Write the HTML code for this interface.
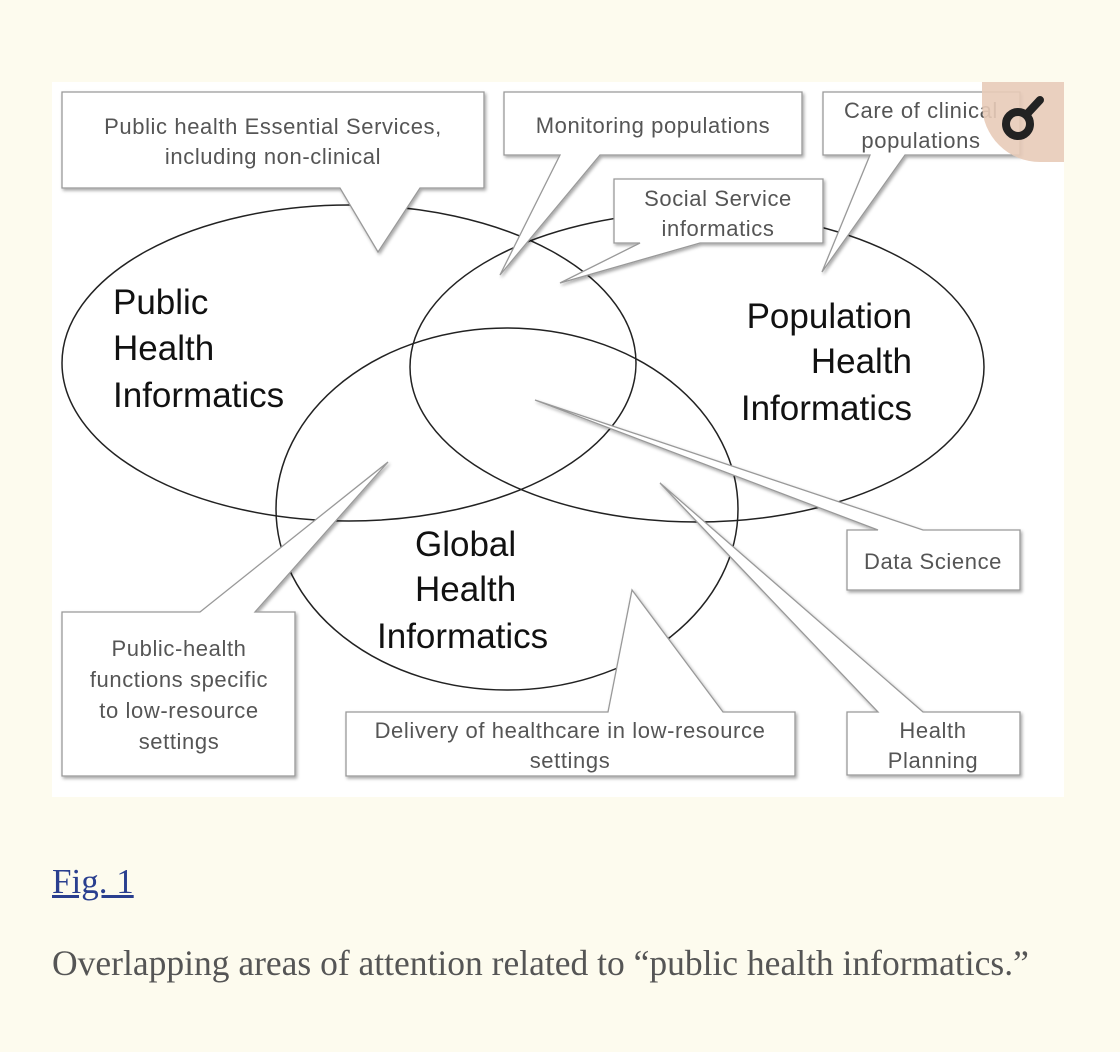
<!DOCTYPE html>
<html><head><meta charset="utf-8"><style>
html,body{margin:0;padding:0;background:#fdfbee;width:1120px;height:1052px;overflow:hidden}
svg{position:absolute;left:0;top:0}
.fig{position:absolute;left:52px;top:862px;font:35px "Liberation Serif",serif;color:#2a3f8f;text-decoration:underline}
.cap{position:absolute;left:52px;top:942px;font:35.5px "Liberation Serif",serif;color:#555}
</style></head><body>
<svg width="1120" height="1052" viewBox="0 0 1120 1052">
<defs><filter id="sh" x="-10%" y="-10%" width="130%" height="130%"><feDropShadow dx="1.5" dy="2" stdDeviation="1.5" flood-color="#000" flood-opacity="0.35"/></filter></defs>
<rect x="52" y="82" width="1012" height="715" fill="#fff"/>
<g fill="none" stroke="#222" stroke-width="1.5">
<ellipse cx="349" cy="363" rx="287" ry="158"/>
<ellipse cx="697" cy="367" rx="287" ry="155"/>
<ellipse cx="507" cy="509" rx="231" ry="181"/>
</g>
<g font-family="Liberation Sans, sans-serif" font-size="35" fill="#111">
<text x="113" y="314">Public</text><text x="113" y="360">Health</text><text x="113" y="407">Informatics</text>
<text x="912" y="328" text-anchor="end">Population</text><text x="912" y="373" text-anchor="end">Health</text><text x="912" y="420" text-anchor="end">Informatics</text>
<text x="415" y="556">Global</text><text x="415" y="601">Health</text><text x="377" y="648">Informatics</text>
</g>
<g fill="#fff" stroke="#999" stroke-width="1.3" filter="url(#sh)">
<polygon points="62,92 484,92 484,188 420,188 378,252 340,188 62,188"/>
<polygon points="504,92 802,92 802,155 600,155 500,275 560,155 504,155"/>
<polygon points="823,92 1020,92 1020,155 905,155 822,272 870,155 823,155"/>
<polygon points="614,179 823,179 823,243 700,243 560,283 640,243 614,243"/>
<polygon points="847,530 878,530 535,400 923,530 1020,530 1020,590 847,590"/>
<polygon points="847,712 878,712 660,483 923,712 1020,712 1020,775 847,775"/>
<polygon points="346,712 608,712 632,590 723,712 795,712 795,776 346,776"/>
<polygon points="62,612 200,612 388,462 255,612 295,612 295,776 62,776"/>
</g>
<g font-family="Liberation Sans, sans-serif" font-size="22" letter-spacing="0.6" fill="#555" text-anchor="middle">
<text x="273" y="134">Public health Essential Services,</text><text x="273" y="164">including non-clinical</text>
<text x="653" y="133">Monitoring populations</text>
<text x="921" y="118">Care of clinical</text><text x="921" y="148">populations</text>
<text x="718" y="206">Social Service</text><text x="718" y="236">informatics</text>
<text x="933" y="569">Data Science</text>
<text x="933" y="738">Health</text><text x="933" y="768">Planning</text>
<text x="570" y="738">Delivery of healthcare in low-resource</text><text x="570" y="768">settings</text>
<text x="179" y="656">Public-health</text><text x="179" y="687">functions specific</text><text x="179" y="718">to low-resource</text><text x="179" y="749">settings</text>
</g>
<path d="M982,82 H1064 V162 H1040 A58,58 0 0 1 982,104 Z" fill="#e8cbb8" opacity="0.9"/>
<circle cx="1018" cy="124" r="12" fill="none" stroke="#222" stroke-width="8"/>
<line x1="1027" y1="114" x2="1040" y2="100" stroke="#222" stroke-width="8" stroke-linecap="round"/>
</svg>
<div class="fig">Fig. 1</div>
<div class="cap">Overlapping areas of attention related to “public health informatics.”</div>
</body></html>
